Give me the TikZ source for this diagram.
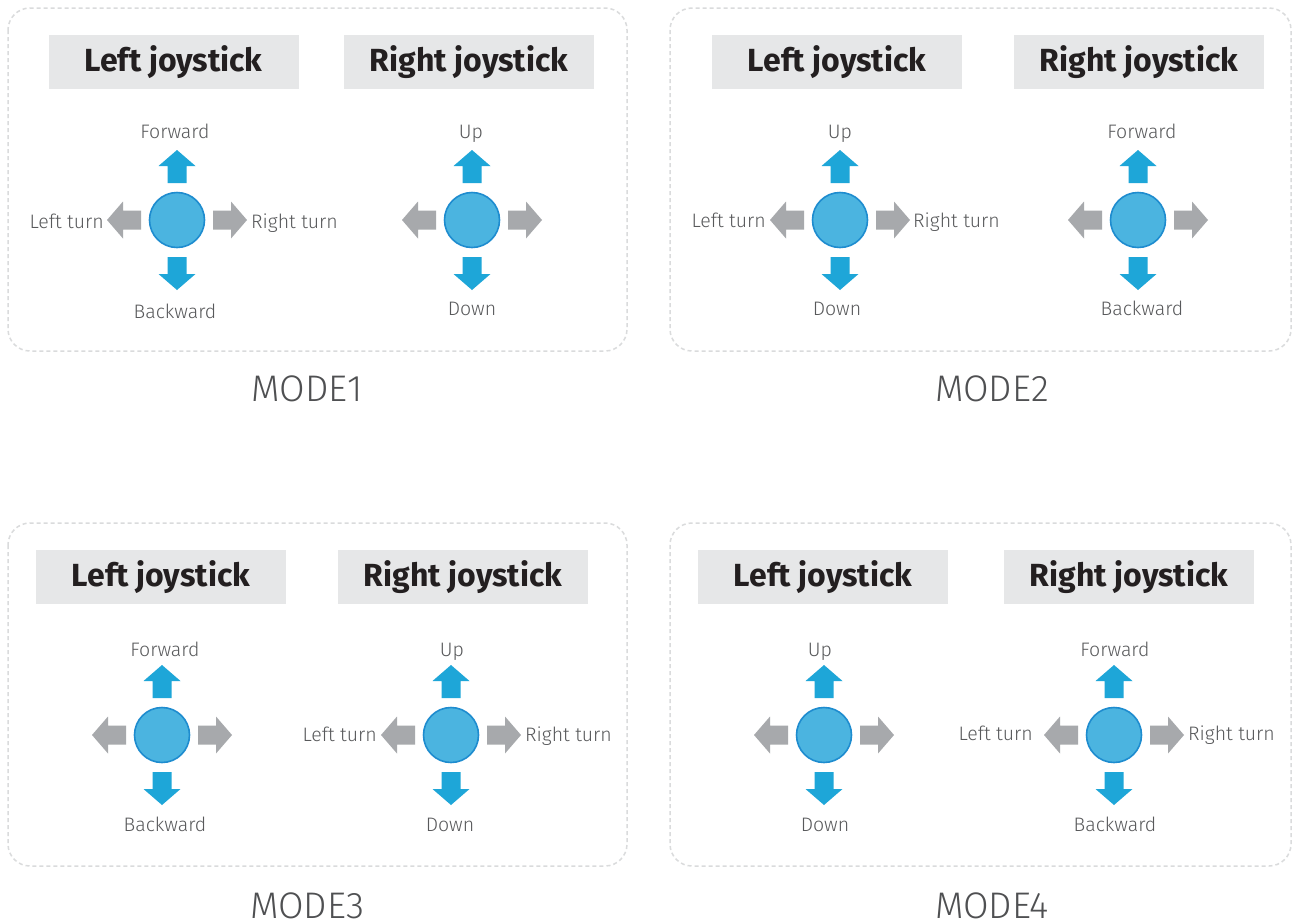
\documentclass[tikz,border=0pt]{standalone}
\usepackage{fontspec}
\setmainfont{Fira Sans}
\newfontfamily\lightfont{Fira Sans Light}
\definecolor{arrblue}{HTML}{1EA6D8}
\definecolor{knobfill}{HTML}{4BB4E0}
\definecolor{knobline}{HTML}{1E8CCF}
\definecolor{arrgray}{HTML}{A7A9AC}
\definecolor{headgray}{HTML}{E6E7E8}
\definecolor{headtext}{HTML}{231F20}
\definecolor{labtext}{HTML}{58595B}
\definecolor{frame}{HTML}{DADBDC}
\tikzset{
  panel/.style={draw=frame, line width=1.5pt, dash pattern=on 4pt off 3pt, rounded corners=22pt},
  head/.style={fill=headgray, minimum width=250pt, minimum height=54pt, inner sep=0pt,
    text=headtext, font=\fontsize{32}{38}\selectfont\bfseries},
  lab/.style={text=labtext, inner sep=0pt, anchor=base, font=\lightfont\fontsize{19.5}{23}\selectfont},
  modelab/.style={text=labtext!90!black, inner sep=0pt, font=\lightfont\fontsize{37}{44}\selectfont},
  knob/.style={circle, fill=knobfill, draw=knobline, line width=1.6pt, minimum size=55pt, inner sep=0pt},
  stick/.pic={
    \fill[arrblue] (-9.5,-37) -- (-9.5,-54) -- (-18.5,-54) -- (0,-70) -- (18.5,-54) -- (9.5,-54) -- (9.5,-37) -- cycle;
    \fill[arrblue] (-9.5,37) -- (-9.5,54) -- (-18.5,54) -- (0,70) -- (18.5,54) -- (9.5,54) -- (9.5,37) -- cycle;
    \fill[arrgray] (36,-9.5) -- (54,-9.5) -- (54,-18.5) -- (70,0) -- (54,18.5) -- (54,9.5) -- (36,9.5) -- cycle;
    \fill[arrgray] (-36,-9.5) -- (-54,-9.5) -- (-54,-18.5) -- (-70,0) -- (-54,18.5) -- (-54,9.5) -- (-36,9.5) -- cycle;
    \node[knob] (-c) at (0,0) {};
  }
}
\begin{document}
\begin{tikzpicture}[x=1pt,y=-1pt]
\useasboundingbox[fill=white] (0,0) rectangle (1293,922);
% panels
\draw[panel] (8,8) rectangle (627,351);
\draw[panel] (670,8) rectangle (1291,351);
\draw[panel] (8,523) rectangle (627,866);
\draw[panel] (670,523) rectangle (1291,866);
% headers
\node[head] (h1l) at (173.5,62) {Left joystick};
\node[head] (h1r) at (469,62) {Right joystick};
\node[head] (h2l) at (837,62) {Left joystick};
\node[head] (h2r) at (1139,62) {Right joystick};
\node[head] (h3l) at (161,577) {Left joystick};
\node[head] (h3r) at (463,577) {Right joystick};
\node[head] (h4l) at (823,577) {Left joystick};
\node[head] (h4r) at (1129,577) {Right joystick};
% sticks
\pic (j1l) at (177,220) {stick};
\pic (j1r) at (472,220) {stick};
\pic (j2l) at (840,220) {stick};
\pic (j2r) at (1138,220) {stick};
\pic (j3l) at (162,735) {stick};
\pic (j3r) at (451,735) {stick};
\pic (j4l) at (824,735) {stick};
\pic (j4r) at (1114,735) {stick};
% MODE1 labels
\node[lab] (t1a) at (175,138) {Forward};
\node[lab] (t1b) at (175,318) {Backward};
\node[lab, anchor=base east] (t1c) at (104,228) {Left turn};
\node[lab, anchor=base west] (t1d) at (251,228) {Right turn};
\node[lab] (t1e) at (471,138) {Up};
\node[lab] (t1f) at (472,315) {Down};
% MODE2 labels
\node[lab] (t2a) at (840,138) {Up};
\node[lab] (t2b) at (837,315) {Down};
\node[lab, anchor=base east] (t2c) at (766,227) {Left turn};
\node[lab, anchor=base west] (t2d) at (913,227) {Right turn};
\node[lab] (t2e) at (1142,138) {Forward};
\node[lab] (t2f) at (1142,315) {Backward};
% MODE3 labels
\node[lab] (t3a) at (165,656) {Forward};
\node[lab] (t3b) at (165,831) {Backward};
\node[lab] (t3c) at (452,656) {Up};
\node[lab] (t3d) at (450,831) {Down};
\node[lab, anchor=base east] (t3e) at (377,741) {Left turn};
\node[lab, anchor=base west] (t3f) at (525,741) {Right turn};
% MODE4 labels
\node[lab] (t4a) at (820,656) {Up};
\node[lab] (t4b) at (825,831) {Down};
\node[lab] (t4c) at (1115,656) {Forward};
\node[lab] (t4d) at (1115,831) {Backward};
\node[lab, anchor=base east] (t4e) at (1033,740) {Left turn};
\node[lab, anchor=base west] (t4f) at (1188,740) {Right turn};
% mode titles
\node[modelab] (m1) at (307,389) {MODE1};
\node[modelab] (m2) at (992,389) {MODE2};
\node[modelab] (m3) at (307,906) {MODE3};
\node[modelab] (m4) at (992,906) {MODE4};
\end{tikzpicture}
\end{document}
